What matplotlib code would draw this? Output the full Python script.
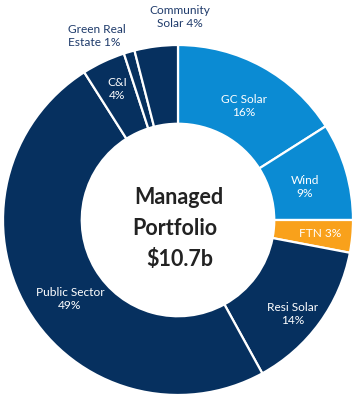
import matplotlib.pyplot as plt

# Portfolio split, clockwise from 12 o'clock
segments = ["GC Solar", "Wind", "FTN", "Resi Solar", "Public Sector", "C&I",
            "Green Real Estate", "Community Solar"]
shares = [16, 9, 3, 14, 49, 4, 1, 4]
colors = ["#0b8bd3", "#0b8bd3", "#f9a11b", "#06305f", "#06305f", "#06305f",
          "#06305f", "#06305f"]
label_text = ["GC Solar\n16%", "Wind\n9%", "FTN 3%", "Resi Solar\n14%",
              "Public Sector\n49%", "C&I\n4%", "Green Real\nEstate 1%",
              "Community\nSolar 4%"]
center_lines = ["Managed", "Portfolio", "$10.7b"]

plt.rcParams['font.family'] = ['Lato', 'DejaVu Sans']

W, H = 355, 397
cx, cy, R = 178, 220, 175  # pie centre / radius in pixels


def px(x, y):
    return (x - cx) / R, (cy - y) / R


fig = plt.figure(figsize=(W / 100, H / 100), dpi=100)
ax = fig.add_axes([0, 0, 1, 1])
ax.pie(shares, colors=colors, startangle=90, counterclock=False, radius=1,
       wedgeprops=dict(width=0.45, edgecolor="white", linewidth=1.6))
ax.set_xlim(-cx / R, (W - cx) / R)
ax.set_ylim(-(H - cy) / R, cy / R)
ax.set_aspect("equal")
ax.axis("off")

# label positions (pixels), inside labels white, outside navy
spots = [(244, 106, "white", "center"), (305, 187, "white", "center"),
         (320, 233, "white", "center"), (293, 314, "white", "center"),
         (70, 299, "white", "center"), (117, 89, "white", "center"),
         (68, 36, "#1f3b6b", "left"), (180, 17, "#1f3b6b", "center")]
for txt, (x, y, c, ha) in zip(label_text, spots):
    tx, ty = px(x, y)
    ax.text(tx, ty, txt, color=c, fontsize=8.6, ha=ha, va="center",
            linespacing=1.15)

for line, (x, y) in zip(center_lines, [(179, 197), (175, 228), (180, 259)]):
    tx, ty = px(x, y)
    ax.text(tx, ty, line, color="#222222", fontsize=15.5, fontweight="bold",
            ha="center", va="center")

fig.savefig("out.png", dpi=100)
